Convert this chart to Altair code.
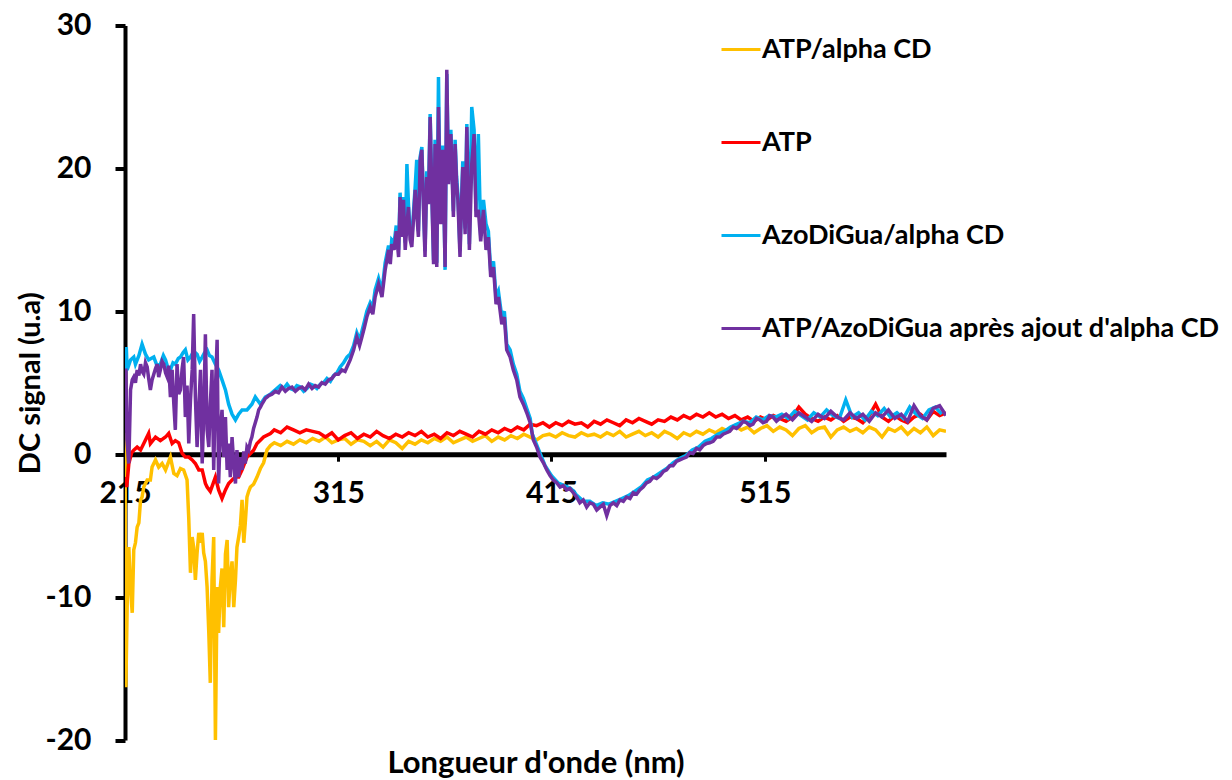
import altair as alt
import pandas as pd

series_names = ["ATP/alpha CD", "ATP", "AzoDiGua/alpha CD", "ATP/AzoDiGua après ajout d'alpha CD"]
series_colors = ["#FFC000", "#FF0000", "#00B0F0", "#7030A0"]
x_ticks = [215, 315, 415, 515]
y_ticks = [-20, -10, 0, 10, 20, 30]

# common wavelength grid (nm) for the smooth tails, read every 3 nm
wl_tail = list(range(285, 601, 3))

# ---------------- ATP/alpha CD (yellow) ----------------
wl_atp_cd_start = [
    215.0, 215.4, 216.2, 216.8, 217.6, 218.4, 219.1, 219.9, 220.7, 221.5,
    222.3, 223.0, 223.8, 225.4, 226.9, 227.7, 229.3, 230.8, 232.4, 234.0,
    236.3, 237.9, 239.4, 241.0, 242.5, 244.1, 244.9, 245.7, 246.5, 247.2,
    248.0, 248.8, 249.6, 250.4, 251.2, 251.9, 252.7, 253.5, 254.3, 255.0,
    255.8, 256.6, 257.4, 258.2, 258.9, 259.7, 260.5, 261.3, 262.1, 262.9,
    263.6, 264.4, 265.2, 266.0, 266.8, 267.5, 268.3, 269.1, 269.9, 270.7,
    271.4, 272.2, 273.0, 273.8, 275.3, 276.9, 278.5, 280.0, 281.6, 283.2]
atp_cd_start = [
    1.5, -16.3, -9.0, -6.5, -9.5, -11.1, -6.7, -6.2, -5.1, -4.8,
    -3.2, -3.0, -2.3, -1.8, -1.8, -0.9, -0.4, -0.9, -0.65, -1.1,
    -0.2, -1.35, -1.5, -1.0, -1.1, -1.8, -4.5, -8.3, -5.8, -6.5,
    -8.8, -6.9, -5.5, -6.2, -5.5, -6.9, -7.5, -9.3, -12.5, -16.0,
    -8.8, -5.8, -20.0, -9.3, -12.5, -9.3, -8.0, -12.1, -7.0, -6.0,
    -10.7, -8.5, -7.5, -10.7, -8.8, -6.5, -5.8, -5.0, -3.2, -6.2,
    -4.8, -3.0, -2.6, -2.3, -2.1, -1.6, -1.0, -0.6, 0.3, 0.6]
atp_cd_tail = [
    0.8, 0.6, 0.9, 0.7, 1.0, 0.8, 1.1, 0.9, 1.2, 0.8,
    1.0, 1.1, 0.7, 1.0, 0.9, 0.6, 0.9, 0.5, 1.0, 0.8,
    0.4, 0.9, 0.7, 1.0, 0.8, 1.1, 0.9, 1.2, 0.8, 1.0,
    1.2, 0.9, 1.1, 1.3, 0.9, 1.2, 1.0, 1.3, 1.1, 1.4,
    1.2, 1.0, 1.3, 1.4, 1.2, 1.5, 1.3, 1.2, 1.5, 1.3,
    1.4, 1.2, 1.5, 1.3, 1.6, 1.2, 1.4, 1.6, 1.3, 1.5,
    1.2, 1.6, 1.4, 1.1, 1.5, 1.3, 1.6, 1.4, 1.7, 1.5,
    1.8, 1.6, 2.0, 1.7, 1.9, 1.5, 1.8, 2.0, 1.6, 1.9,
    1.7, 1.3, 1.8, 2.0, 1.5, 1.8, 1.9, 1.2, 1.7, 1.9,
    1.6, 1.8, 1.5, 1.9, 1.7, 1.2, 1.8, 1.6, 1.9, 1.4,
    1.8, 1.5, 1.9, 1.3, 1.7, 1.6]

# ---------------- ATP (red) ----------------
wl_atp_start = [
    215.2, 215.8, 216.8, 218.1, 219.1, 220.7, 222.3, 223.8, 226.1, 226.9,
    229.3, 231.6, 234.0, 235.5, 237.1, 238.6, 240.2, 241.8, 243.3, 244.9,
    246.5, 248.0, 249.6, 251.2, 252.7, 253.5, 255.0, 257.4, 258.9, 260.5,
    262.1, 263.6, 265.2, 266.8, 268.3, 269.9, 272.2, 273.8, 275.3, 276.9,
    280.0, 283.2]
atp_start = [
    -1.6, -2.3, -0.65, 0.1, 0.28, 0.5, 0.3, 0.75, 1.45, 0.75,
    1.2, 0.95, 1.2, 1.45, 0.75, 0.95, 0.8, 0.05, -0.2, -0.2,
    -0.4, -0.65, -1.1, -1.1, -2.05, -2.3, -2.6, -1.6, -2.5, -3.1,
    -2.5, -2.05, -1.8, -1.6, -1.6, -1.1, -0.2, 0.05, 0.28, 0.75,
    1.2, 1.45]
atp_tail = [
    1.7, 1.5, 1.9, 1.7, 1.5, 1.7, 1.6, 1.5, 1.2, 1.5,
    1.0, 1.3, 1.5, 1.1, 1.4, 1.2, 1.6, 1.3, 1.1, 1.4,
    1.2, 1.5, 1.3, 1.6, 1.2, 1.4, 1.1, 1.5, 1.3, 1.6,
    1.4, 1.2, 1.6, 1.4, 1.7, 1.5, 1.8, 1.6, 1.9, 1.7,
    2.1, 2.0, 2.2, 1.9, 2.2, 2.0, 2.3, 2.1, 2.2, 1.9,
    2.3, 2.1, 2.4, 2.2, 2.0, 2.4, 2.2, 2.5, 2.3, 2.1,
    2.4, 2.3, 2.6, 2.4, 2.7, 2.5, 2.8, 2.6, 2.9, 2.6,
    2.8, 2.5, 2.7, 2.4, 2.6, 2.3, 2.6, 2.4, 2.7, 2.5,
    2.3, 2.6, 3.3, 2.8, 2.5, 2.3, 2.6, 2.4, 2.7, 2.3,
    2.6, 2.5, 2.2, 2.7, 3.5, 2.6, 2.3, 2.7, 2.4, 2.2,
    2.6, 2.8, 2.4, 3.0, 2.7, 2.9]

# ---------------- AzoDiGua/alpha CD (blue) ----------------
wl_azo_start = [
    215.0, 215.6, 216.0, 217.6, 219.1, 219.9, 221.5, 223.0, 224.6, 226.1,
    228.5, 230.0, 231.6, 233.0, 234.0, 235.2, 236.3, 237.5, 238.6, 240.0,
    241.0, 242.2, 243.3, 244.5, 245.7, 247.2, 248.8, 250.0, 251.2, 252.3,
    253.5, 254.6, 255.8, 257.4, 258.9, 260.5, 262.1, 263.6, 265.2, 266.8,
    268.3, 269.9, 272.2, 274.5, 276.1, 278.5, 280.8, 283.2, 285.5, 287.8,
    289.4, 291.0, 292.5, 294.1, 295.6, 297.2, 298.8, 300.3, 301.9, 303.4,
    305.0, 306.6, 308.1, 309.7, 311.3, 312.8, 314.4, 315.9, 317.5]
azo_start = [
    5.0, 7.5, 5.9, 6.6, 6.8, 6.3, 6.9, 7.7, 7.0, 6.6,
    6.8, 6.2, 6.3, 6.9, 6.6, 6.0, 5.9, 6.4, 6.3, 6.7,
    6.8, 7.1, 7.3, 6.6, 6.8, 7.2, 7.0, 6.5, 6.8, 7.1,
    7.3, 6.9, 6.8, 6.3, 5.9, 5.2, 4.5, 3.5, 2.8, 2.4,
    2.8, 3.1, 3.1, 3.5, 4.0, 3.5, 4.0, 4.2, 4.5, 4.8,
    4.6, 4.9, 4.6, 4.5, 4.8, 4.7, 4.4, 4.6, 4.9, 4.8,
    4.6, 4.9, 5.0, 5.3, 5.1, 5.5, 5.7, 6.1, 6.4]

# peak region wavelengths shared by blue and purple
wl_peak = [
    319.1, 320.6, 322.2, 323.7, 325.0, 326.1, 327.3, 328.4, 330.0, 331.2,
    332.3, 333.9, 335.5, 337.0, 338.6, 339.4, 340.1, 341.2, 342.2, 343.3,
    344.0, 344.8, 345.6, 346.4, 347.2, 347.9, 348.7, 349.5, 350.3, 351.1,
    351.8, 352.6, 353.4, 354.2, 355.0, 355.7, 356.5, 357.3, 358.1, 358.9,
    359.7, 360.4, 361.2, 362.0, 362.6, 363.1, 364.0, 364.6, 365.1, 365.9,
    366.7, 367.8, 369.0, 369.8, 370.5, 371.1, 372.1, 372.8, 373.4, 374.5,
    375.3, 376.5, 377.6, 378.7, 379.6, 380.7, 381.8, 383.1, 384.3, 385.4,
    386.5, 387.8, 389.0, 390.1, 391.7, 392.9, 394.0, 395.6, 397.1, 398.7,
    400.2, 401.8, 403.4, 405.0]
azo_peak = [
    6.8, 7.0, 7.6, 8.5, 8.0, 8.6, 9.3, 10.0, 10.6, 10.3,
    11.5, 12.3, 11.4, 13.4, 14.6, 13.8, 15.0, 14.8, 16.0, 14.3,
    18.3, 15.6, 18.0, 14.8, 20.3, 17.6, 15.4, 15.0, 17.0, 18.8,
    20.6, 15.6, 20.8, 21.5, 17.4, 14.2, 19.8, 18.0, 23.8, 18.4,
    13.6, 22.0, 13.4, 26.4, 19.4, 16.5, 21.6, 17.4, 12.9, 26.6,
    19.3, 22.7, 17.0, 22.0, 19.4, 18.2, 14.2, 17.8, 20.5, 15.8,
    23.1, 14.7, 24.3, 22.7, 17.0, 22.4, 15.3, 17.8, 16.1, 15.6,
    12.8, 13.5, 11.0, 11.4, 9.6, 10.0, 7.7, 7.3, 6.3, 5.6,
    4.4, 3.9, 3.2, 2.5]

wl_azo_tail = list(range(406, 601, 3))
azo_tail = [
    1.4, 0.3, -0.8, -1.5, -2.0, -2.2, -2.4, -2.9, -3.3, -3.3,
    -3.6, -3.4, -3.5, -3.3, -3.1, -2.9, -2.6, -2.3, -1.8, -1.6,
    -1.3, -1.0, -0.6, -0.3, -0.1, 0.3, 0.5, 0.9, 1.1, 1.4,
    1.6, 1.9, 2.1, 2.3, 2.2, 2.6, 2.4, 2.7, 2.6, 2.8,
    2.5, 3.0, 2.7, 2.4, 2.9, 2.6, 3.1, 2.7, 2.5, 3.8,
    2.6, 2.9, 2.4, 3.0, 2.7, 3.2, 2.6, 2.9, 2.5, 3.3,
    2.8, 2.5, 3.1, 3.3, 2.8]

# ---------------- ATP/AzoDiGua après ajout d'alpha CD (purple) ----------------
wl_mix_start = [
    215.0, 215.4, 215.9, 216.8, 217.6, 218.4, 219.1, 219.9, 220.7, 221.5,
    222.3, 223.0, 223.8, 224.6, 225.4, 226.1, 226.9, 227.7, 228.5, 229.3,
    230.1, 230.8, 231.6, 232.4, 233.2, 234.0, 234.8, 235.5, 236.3, 237.1,
    237.9, 238.6, 239.4, 240.2, 241.0, 241.8, 242.5, 243.3, 244.1, 244.9,
    245.7, 246.5, 247.2, 248.0, 248.8, 249.6, 250.4, 251.2, 251.9, 252.7,
    253.5, 254.3, 255.0, 255.8, 256.6, 257.4, 258.2, 258.9, 259.7, 260.5,
    261.3, 262.1, 262.9, 263.6, 264.4, 265.2, 266.0, 266.8, 267.5, 268.3,
    269.1, 269.9, 270.7, 271.4, 272.2, 273.0, 273.8, 274.5, 275.3, 276.1,
    276.9, 277.7, 278.5, 279.2, 280.0, 280.8, 281.6, 282.4, 283.9, 285.5,
    287.0, 288.6, 290.2, 291.7, 293.3, 294.9, 296.4, 298.0, 299.5, 301.1,
    302.7, 304.2, 305.8, 307.3, 308.9, 310.5, 312.0, 313.6, 315.1, 316.7,
    318.2]
mix_start = [
    4.2, 6.0, 1.0, -0.65, 4.5, 5.2, 5.4, 5.0, 5.9, 5.5,
    6.3, 5.8, 5.6, 6.4, 6.1, 5.3, 4.5, 5.2, 5.6, 6.0,
    6.3, 5.4, 5.9, 6.5, 6.3, 5.7, 5.4, 6.2, 4.0, 5.9,
    3.5, 1.7, 6.3, 4.2, 4.5, 6.0, 6.8, 2.6, 4.8, 0.75,
    3.8, 5.9, 9.8, 4.0, 0.5, 3.2, 5.9, -0.65, 2.6, 8.4,
    1.7, 0.5, 3.5, 5.9, -1.1, 4.5, 8.0, -2.05, 1.7, 3.1,
    -0.2, 2.6, -1.1, 0.75, -1.6, 1.2, -0.65, -2.05, 0.28, -1.6,
    -0.2, -1.1, 0.2, -0.65, 0.5, 0.28, 0.9, 1.2, 1.8, 2.2,
    2.6, 3.1, 3.3, 3.5, 3.7, 3.9, 4.0, 4.1, 4.2, 4.4,
    4.3, 4.7, 4.4, 4.6, 4.7, 4.4, 4.6, 4.7, 4.5, 4.9,
    4.6, 4.8, 4.7, 5.0, 4.9, 5.2, 5.3, 5.6, 5.6, 5.9,
    5.8]
mix_peak = [
    6.1, 6.6, 7.3, 8.2, 7.6, 8.2, 8.9, 9.6, 10.3, 9.8,
    11.0, 11.9, 11.0, 12.9, 14.3, 13.3, 14.7, 14.3, 15.6, 13.8,
    18.0, 15.2, 17.8, 14.3, 16.0, 17.3, 15.0, 14.5, 16.5, 18.5,
    16.8, 15.2, 20.6, 21.3, 17.0, 13.8, 19.4, 17.5, 23.6, 18.0,
    13.3, 21.7, 13.1, 24.3, 19.0, 16.1, 21.3, 17.0, 13.1, 26.9,
    18.9, 22.4, 16.6, 21.7, 19.0, 17.8, 13.8, 17.5, 20.1, 15.4,
    22.9, 14.3, 20.3, 22.4, 16.6, 17.1, 14.9, 17.1, 14.3, 15.2,
    12.4, 13.1, 10.5, 11.0, 9.1, 9.6, 7.3, 6.8, 5.9, 5.2,
    4.0, 3.5, 2.9, 2.2]
wl_mix_trough = [
    406.5, 408.0, 409.6, 411.2, 412.8, 414.3, 415.8, 417.4, 419.0, 420.5,
    422.1, 423.6, 425.2, 426.8, 428.3, 429.9, 431.5, 433.0, 434.6, 436.2,
    437.7, 439.3, 440.9, 442.4, 444.0, 445.6, 447.1, 448.7, 450.2, 451.8,
    453.3, 454.9, 456.4, 458.0, 459.6, 461.1, 462.7, 464.3, 466.0, 467.5,
    469.0, 470.5, 472.0, 473.6, 475.2, 476.7, 478.3, 479.8, 481.4, 483.0,
    484.5, 486.1, 487.7, 489.2, 490.8, 492.4, 494.0, 495.5, 497.1, 498.6,
    500.2, 501.8, 503.3, 504.9, 506.4, 508.0, 509.5, 511.1, 512.7, 514.2,
    515.8, 517.3, 518.9, 520.5]
mix_trough = [
    1.0, 0.5, -0.2, -0.6, -1.1, -1.5, -1.8, -2.0, -2.3, -2.2,
    -2.5, -2.4, -2.7, -3.0, -3.4, -3.2, -3.7, -3.4, -3.5, -3.9,
    -3.7, -3.5, -4.3, -3.6, -3.4, -3.6, -3.2, -3.3, -3.0, -3.1,
    -2.7, -2.8, -2.5, -2.3, -2.0, -1.9, -1.6, -1.7, -1.5, -1.2,
    -1.1, -0.8, -0.8, -0.5, -0.4, -0.3, -0.2, 0.1, 0.05, 0.4,
    0.3, 0.6, 0.75, 0.8, 0.9, 1.2, 1.2, 1.4, 1.5, 1.6,
    1.9, 1.8, 2.0, 2.3, 2.2, 2.0, 2.1, 2.5, 2.4, 2.2,
    2.3, 2.7, 2.6, 2.3]
wl_mix_tail = list(range(522, 601, 3))
mix_tail = [
    2.5, 2.8, 2.4, 2.9, 2.6, 2.3, 2.8, 2.5, 3.0, 2.6,
    2.4, 2.9, 2.5, 2.8, 2.3, 2.9, 2.6, 3.1, 2.5, 2.8,
    2.3, 3.4, 2.7, 2.4, 3.2, 3.4, 2.7]

series_wl = [
    wl_atp_cd_start + wl_tail,
    wl_atp_start + wl_tail,
    wl_azo_start + wl_peak + wl_azo_tail,
    wl_mix_start + wl_peak + wl_mix_trough + wl_mix_tail,
]
series_val = [
    atp_cd_start + atp_cd_tail,
    atp_start + atp_tail,
    azo_start + azo_peak + azo_tail,
    mix_start + mix_peak + mix_trough + mix_tail,
]

frames = []
for k, (name, wls, vals) in enumerate(zip(series_names, series_wl, series_val)):
    assert len(wls) == len(vals), (name, len(wls), len(vals))
    frames.append(pd.DataFrame({"wl": wls, "v": vals, "serie": name, "k": k}))
df = pd.concat(frames, ignore_index=True)

FONT = "Lato"
W, H = 821, 714.5
y_min, y_max = -20, 30
zero_offset = -H * (0 - y_min) / (y_max - y_min)

base = alt.Chart(df).mark_line(strokeWidth=3.5, clip=True).encode(
    x=alt.X("wl:Q",
            scale=alt.Scale(domain=[215, 600], nice=False, zero=False),
            axis=alt.Axis(values=x_ticks, offset=zero_offset, grid=False,
                          title="Longueur d'onde (nm)",
                          titleX=W / 2, titleY=309, titleAlign="center",
                          titleBaseline="middle", titleFontSize=31,
                          domainWidth=5, tickWidth=3, tickSize=7,
                          labelFontSize=30,
                          labelPadding=17, labelFlush=False)),
    y=alt.Y("v:Q",
            scale=alt.Scale(domain=[y_min, y_max], nice=False, zero=False),
            axis=alt.Axis(values=y_ticks, grid=False,
                          title="DC signal (u.a)",
                          titleX=-95, titleY=H / 2, titleAngle=270,
                          titleAlign="center", titleBaseline="middle",
                          titleFontSize=29,
                          labelFontSize=30,
                          labelExpr="datum.value < 0 ? '-' + abs(datum.value) : '' + datum.value",
                          domainWidth=4, tickWidth=4, tickSize=10,
                          labelPadding=24)),
    color=alt.Color("serie:N",
                    scale=alt.Scale(domain=series_names, range=series_colors),
                    legend=alt.Legend(orient="none", legendX=595, legendY=3,
                                      title=None, symbolType="stroke",
                                      symbolStrokeWidth=3, symbolSize=1521,
                                      labelFont=FONT, labelFontSize=27,
                                      labelFontWeight="bold", labelColor="black",
                                      labelOffset=0, rowPadding=59,
                                      labelLimit=700)),
)

layers = [base.transform_filter(alt.datum.k == k) for k in range(len(series_names))]

chart = alt.layer(*layers).properties(
    width=W, height=H,
    autosize=alt.AutoSizeParams(type="none"),
    padding={"left": 117, "top": 17.5, "right": 276, "bottom": 39},
    background="white",
).configure_view(stroke=None).configure_axis(
    labelFont=FONT, labelFontWeight="bold", labelColor="black",
    titleFont=FONT, titleFontWeight="bold", titleColor="black",
    domainColor="black", tickColor="black",
)

chart.save("out.html", embed_options={"renderer": "svg", "actions": False})
